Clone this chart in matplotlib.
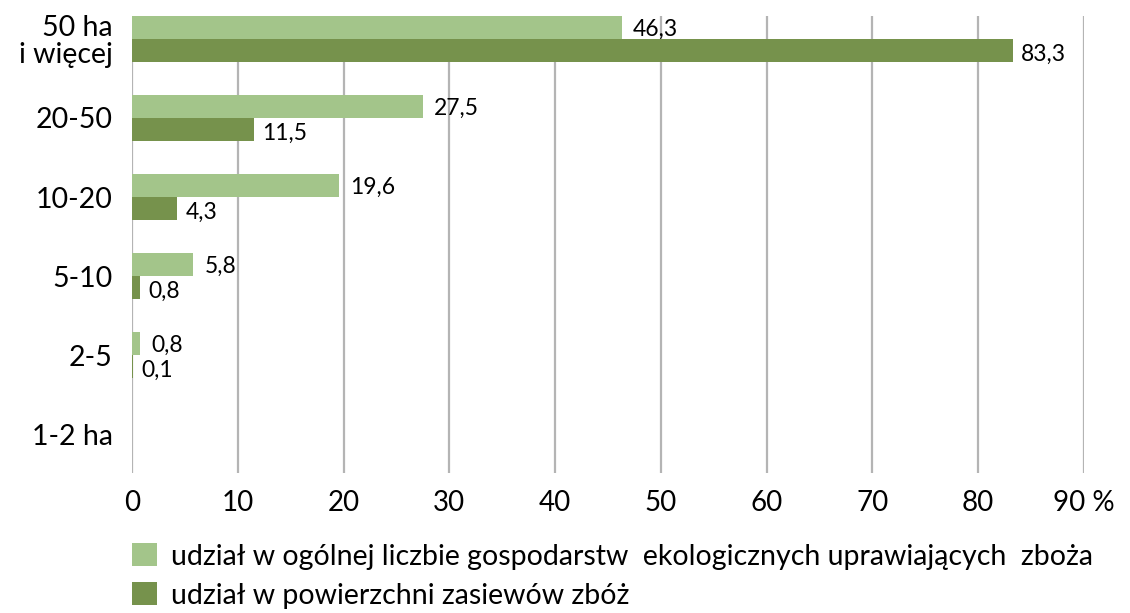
import matplotlib
matplotlib.use("Agg")
import matplotlib.pyplot as plt
import numpy as np

categories = ["1-2 ha", "2-5", "5-10", "10-20", "20-50", "50 ha\ni więcej"]
share_farms = [None, 0.8, 5.8, 19.6, 27.5, 46.3]
share_area = [None, 0.1, 0.8, 4.3, 11.5, 83.3]
labels_farms = ["", "0,8", "5,8", "19,6", "27,5", "46,3"]
labels_area = ["", "0,1", "0,8", "4,3", "11,5", "83,3"]
xticks = [0, 10, 20, 30, 40, 50, 60, 70, 80, 90]
xticklabels = ["0", "10", "20", "30", "40", "50", "60", "70", "80", "90 %"]
legend_labels = ["udział w ogólnej liczbie gospodarstw  ekologicznych uprawiających  zboża",
                 "udział w powierzchni zasiewów zbóż"]

light = "#A3C58A"
dark = "#76924C"

plt.rcParams['font.family'] = ['Lato', 'DejaVu Sans']

fig = plt.figure(figsize=(11.3, 6.13), dpi=100)
ax = fig.add_axes([132/1130, (613-473)/613, (1084-132)/1130, (473-16)/613])

y = np.arange(len(categories))
h = 0.29
vf = np.array([np.nan if v is None else v for v in share_farms], dtype=float)
va = np.array([np.nan if v is None else v for v in share_area], dtype=float)
b1 = ax.barh(y + h/2, np.nan_to_num(vf), height=h, color=light, zorder=3, label=legend_labels[0])
b2 = ax.barh(y - h/2, np.nan_to_num(va), height=h, color=dark, zorder=3, label=legend_labels[1])

for i in range(len(categories)):
    if not np.isnan(vf[i]):
        ax.annotate(labels_farms[i], (vf[i], y[i] + h/2), xytext=(11, -2), textcoords="offset pixels",
                    ha="left", va="center", fontsize=16.5, color="black", zorder=4)
    if not np.isnan(va[i]):
        ax.annotate(labels_area[i], (va[i], y[i] - h/2), xytext=(8, -4), textcoords="offset pixels",
                    ha="left", va="center", fontsize=16.5, color="black", zorder=4)

ax.set_xlim(0, 90)
ax.set_ylim(-0.49, 5.29)
ax.set_xticks(xticks)
ax.set_xticklabels(xticklabels, fontsize=20)
ax.set_yticks(y)
ax.set_yticklabels(categories, fontsize=20.5, linespacing=1.05)
ax.tick_params(axis="y", length=0, pad=14)
ax.tick_params(axis="x", length=0, pad=12)
ax.grid(axis="x", color="#B4B4B4", linewidth=1.6, zorder=0)
for s in ax.spines.values():
    s.set_visible(False)

fig.legend(handles=[b1, b2], labels=legend_labels, loc="upper left",
           bbox_to_anchor=(121/1130, 1 - 532/613), frameon=False, fontsize=20.5,
           handlelength=0.85, handleheight=0.85, handletextpad=0.5, labelspacing=0.45,
           borderaxespad=0)

fig.savefig("out.png", dpi=100)
